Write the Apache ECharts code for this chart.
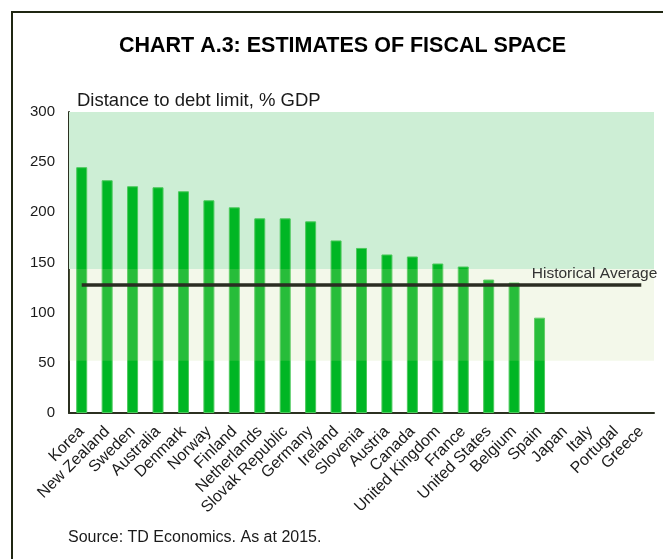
<!DOCTYPE html>
<html>
<head>
<meta charset="utf-8">
<script src="https://cdn.jsdelivr.net/npm/echarts@6/dist/echarts.min.js"></script>
<style>
html,body{margin:0;padding:0;background:#fff;}
#chart{width:663px;height:559px;}
</style>
</head>
<body>
<div id="chart"></div>
<script>
const categories = ['Korea','New Zealand','Sweden','Australia','Denmark','Norway','Finland','Netherlands','Slovak Republic','Germany','Ireland','Slovenia','Austria','Canada','United Kingdom','France','United States','Belgium','Spain','Japan','Italy','Portugal','Greece'];
const fiscalSpace = [245, 232, 226, 225, 221, 212, 205, 194, 194, 191, 172, 164.5, 158, 156, 149, 146, 133, 130, 95, null, null, null, null];
const historicalAverage = 128;
const upperBand = [143.5, 300];
const middleBand = [52, 143.5];
const yTicks = {min: 0, max: 300, interval: 50};

const chart = echarts.init(document.getElementById('chart'), null, {renderer: 'canvas'});
const axisColor = '#2b3020';
const font = 'Liberation Sans, Arial, sans-serif';

chart.setOption({
  animation: false,
  backgroundColor: '#ffffff',
  grid: {left: 69, right: 9, top: 112, bottom: 146, containLabel: false},
  xAxis: {
    type: 'category',
    data: categories,
    axisLine: {lineStyle: {color: axisColor, width: 2}},
    axisTick: {show: false},
    axisLabel: {rotate: 45, interval: 0, margin: 16, fontSize: 16, color: '#1a1a1a', fontFamily: font}
  },
  yAxis: {
    type: 'value',
    min: yTicks.min, max: yTicks.max, interval: yTicks.interval,
    axisLine: {show: true, lineStyle: {color: axisColor, width: 2}},
    axisTick: {show: false},
    splitLine: {show: false},
    axisLabel: {fontSize: 15, color: '#1a1a1a', margin: 14, fontFamily: font}
  },
  series: [
    {
      type: 'bar',
      data: fiscalSpace,
      barWidth: 11,
      itemStyle: {color: '#00b624', borderColor: '#4cc95c', borderWidth: 1},
      markArea: {
        silent: true,
        z: 1,
        itemStyle: {color: '#cdeed5'},
        data: [[{yAxis: upperBand[0]}, {yAxis: upperBand[1]}]]
      },
      markLine: {
        silent: true,
        symbol: ['none', 'none'],
        lineStyle: {color: '#2a2d22', width: 3.5, type: 'solid'},
        label: {show: true, position: 'insideEndTop', formatter: 'Historical Average', fontSize: 15.5, color: '#333333', fontFamily: font, distance: [-16, 3]},
        data: [[{xAxis: categories[0], yAxis: historicalAverage}, {xAxis: categories[categories.length - 1], yAxis: historicalAverage}]]
      }
    },
    {
      type: 'line',
      data: [],
      z: 3,
      markArea: {
        silent: true,
        z: 3,
        itemStyle: {color: 'rgba(195,220,150,0.2)'},
        data: [[{yAxis: middleBand[0]}, {yAxis: middleBand[1]}]]
      }
    }
  ],
  graphic: [
    {type: 'rect', z: 100, silent: true,
     shape: {x: 12, y: 12, width: 700, height: 600}, style: {fill: 'none', stroke: '#1f2612', lineWidth: 2}},
    {type: 'text', x: 342.5, y: 46, z: 100,
     style: {text: 'CHART A.3: ESTIMATES OF FISCAL SPACE', fontSize: 21.5, fontWeight: 'bold', fill: '#000', fontFamily: font, align: 'center', verticalAlign: 'middle'}},
    {type: 'text', x: 77, y: 101, z: 100,
     style: {text: 'Distance to debt limit, % GDP', fontSize: 18.5, fill: '#1a1a1a', fontFamily: font, align: 'left', verticalAlign: 'middle'}},
    {type: 'text', x: 68, y: 538, z: 100,
     style: {text: 'Source: TD Economics. As at 2015.', fontSize: 16, fill: '#1a1a1a', fontFamily: font, align: 'left', verticalAlign: 'middle'}}
  ]
});
</script>
</body>
</html>
